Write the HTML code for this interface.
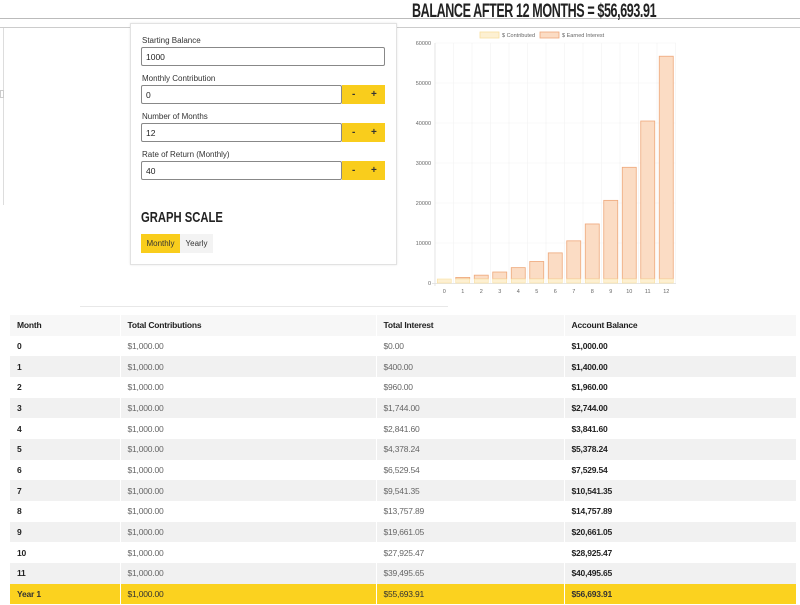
<!DOCTYPE html>
<html><head><meta charset="utf-8"><style>
*{box-sizing:border-box;margin:0;padding:0}
body{width:800px;height:605px;background:#fff;font-family:"Liberation Sans",sans-serif;position:relative;overflow:hidden;color:#222}
.abs{position:absolute}
.lbl{font-size:8px;color:#333}
.inp{position:absolute;left:141px;height:19px;border:1px solid #888;border-radius:2px;font-size:8.5px;padding:4px 4px;background:#fff}
.btn{position:absolute;left:342px;width:43px;height:19px;background:#f9cd1c;font-size:10px;font-weight:bold;color:#333}
.btn span{position:absolute;top:4px}
table{position:absolute;left:10px;top:315px;width:786px;border-collapse:collapse;font-size:8.5px;letter-spacing:-0.2px}
td{height:20.67px;padding:0 7px;border-left:1px solid #fff;color:#666;vertical-align:middle}
td:first-child{border-left:none;color:#222;font-weight:bold}
td:last-child{font-weight:bold;color:#222}
tr.h td{font-weight:bold;color:#222;background:#f7f7f7}
tr.g td{background:#f1f1f1}
tr.y td{background:#fbd21f;color:#333}
</style></head><body>
<div class="abs" style="left:0;top:18px;width:800px;height:1px;background:#bbb"></div>
<div class="abs" style="left:0;top:27px;width:800px;height:1px;background:#ccc"></div>
<div class="abs" style="left:3px;top:28px;width:1px;height:177px;background:#ddd"></div>
<div class="abs" style="left:0;top:90px;width:4px;height:8px;border:1px solid #ccc"></div>
<div class="abs" style="left:412px;top:1px;font-size:19px;font-weight:bold;letter-spacing:-0.6px;transform:scaleX(0.66);transform-origin:left;white-space:nowrap;color:#222">BALANCE AFTER 12 MONTHS = $56,693.91</div>

<div class="abs" style="left:130px;top:23px;width:267px;height:242px;border:1px solid #e2e2e2;box-shadow:0 0 2px rgba(0,0,0,.1);background:#fff"></div>
<div class="abs lbl" style="left:142px;top:36px">Starting Balance</div>
<div class="inp" style="top:47px;width:244px">1000</div>
<div class="abs lbl" style="left:142px;top:74px">Monthly Contribution</div>
<div class="inp" style="top:85px;width:201px">0</div>
<div class="btn" style="top:85px"><span style="left:10px">-</span><span style="left:29px">+</span></div>
<div class="abs lbl" style="left:142px;top:112px">Number of Months</div>
<div class="inp" style="top:123px;width:201px">12</div>
<div class="btn" style="top:123px"><span style="left:10px">-</span><span style="left:29px">+</span></div>
<div class="abs lbl" style="left:142px;top:150px">Rate of Return (Monthly)</div>
<div class="inp" style="top:161px;width:201px">40</div>
<div class="btn" style="top:161px"><span style="left:10px">-</span><span style="left:29px">+</span></div>
<div class="abs" style="left:141px;top:209px;font-size:15px;font-weight:bold;transform:scaleX(0.75);transform-origin:left;white-space:nowrap;color:#222">GRAPH SCALE</div>
<div class="abs" style="left:141px;top:234px;width:39px;height:19px;background:#f9cd1c;font-size:8px;color:#333;text-align:center;line-height:19px">Monthly</div>
<div class="abs" style="left:180px;top:234px;width:33px;height:19px;background:#f3f3f3;font-size:8px;color:#333;text-align:center;line-height:19px">Yearly</div>

<svg class="abs" style="left:0;top:0" width="800" height="305">
<g font-family="Liberation Sans" font-size="5.5" fill="#666">
<rect x="480" y="32" width="19" height="6" fill="#fdf0d2" stroke="#f8dfa0" stroke-width="0.8"/>
<text x="502" y="37">$ Contributed</text>
<rect x="540" y="32" width="19" height="6" fill="#fbdcc4" stroke="#eea77a" stroke-width="0.8"/>
<text x="562" y="37">$ Earned Interest</text>
<g text-anchor="end">
<text x="431" y="45">60000</text><text x="431" y="85">50000</text><text x="431" y="125">40000</text>
<text x="431" y="165">30000</text><text x="431" y="205">20000</text><text x="431" y="245">10000</text><text x="431" y="285">0</text>
</g>
<g stroke="#f2f2f2" stroke-width="0.6">
<line x1="435" y1="43" x2="676" y2="43"/><line x1="435" y1="83" x2="676" y2="83"/><line x1="435" y1="123" x2="676" y2="123"/>
<line x1="435" y1="163" x2="676" y2="163"/><line x1="435" y1="203" x2="676" y2="203"/><line x1="435" y1="243" x2="676" y2="243"/>
<line x1="453.5" y1="43" x2="453.5" y2="283"/><line x1="472" y1="43" x2="472" y2="283"/><line x1="490.5" y1="43" x2="490.5" y2="283"/>
<line x1="509" y1="43" x2="509" y2="283"/><line x1="527.5" y1="43" x2="527.5" y2="283"/><line x1="546" y1="43" x2="546" y2="283"/>
<line x1="564.5" y1="43" x2="564.5" y2="283"/><line x1="583" y1="43" x2="583" y2="283"/><line x1="601.5" y1="43" x2="601.5" y2="283"/>
<line x1="620" y1="43" x2="620" y2="283"/><line x1="638.5" y1="43" x2="638.5" y2="283"/><line x1="657" y1="43" x2="657" y2="283"/><line x1="675.5" y1="43" x2="675.5" y2="283"/>
</g>
<line x1="435" y1="43" x2="435" y2="286" stroke="#ddd" stroke-width="0.8"/>
<line x1="432" y1="283.5" x2="676" y2="283.5" stroke="#ddd" stroke-width="0.8"/>
<g id="bars"></g>
<g text-anchor="middle" id="xl"></g>
</g>
</svg>
<div class="abs" style="left:80px;top:306px;width:368px;height:1px;background:#e8e8e8"></div>

<table>
<tr class="h"><td style="width:110px">Month</td><td style="width:256px">Total Contributions</td><td style="width:188px">Total Interest</td><td>Account Balance</td></tr>
<tr><td>0</td><td>$1,000.00</td><td>$0.00</td><td>$1,000.00</td></tr>
<tr class="g"><td>1</td><td>$1,000.00</td><td>$400.00</td><td>$1,400.00</td></tr>
<tr><td>2</td><td>$1,000.00</td><td>$960.00</td><td>$1,960.00</td></tr>
<tr class="g"><td>3</td><td>$1,000.00</td><td>$1,744.00</td><td>$2,744.00</td></tr>
<tr><td>4</td><td>$1,000.00</td><td>$2,841.60</td><td>$3,841.60</td></tr>
<tr class="g"><td>5</td><td>$1,000.00</td><td>$4,378.24</td><td>$5,378.24</td></tr>
<tr><td>6</td><td>$1,000.00</td><td>$6,529.54</td><td>$7,529.54</td></tr>
<tr class="g"><td>7</td><td>$1,000.00</td><td>$9,541.35</td><td>$10,541.35</td></tr>
<tr><td>8</td><td>$1,000.00</td><td>$13,757.89</td><td>$14,757.89</td></tr>
<tr class="g"><td>9</td><td>$1,000.00</td><td>$19,661.05</td><td>$20,661.05</td></tr>
<tr><td>10</td><td>$1,000.00</td><td>$27,925.47</td><td>$28,925.47</td></tr>
<tr class="g"><td>11</td><td>$1,000.00</td><td>$39,495.65</td><td>$40,495.65</td></tr>
<tr class="y"><td>Year 1</td><td>$1,000.00</td><td>$55,693.91</td><td>$56,693.91</td></tr>
</table>
<script>
var v=[1000,1400,1960,2744,3841.6,5378.24,7529.54,10541.35,14757.89,20661.05,28925.47,40495.65,56693.91];
var ns="http://www.w3.org/2000/svg",b=document.getElementById("bars"),xl=document.getElementById("xl");
v.forEach(function(val,i){
 var cx=444.25+18.5*i,w=14,x=cx-w/2,h=val*0.004,top=283-h;
 var r=document.createElementNS(ns,"rect");
 r.setAttribute("x",x);r.setAttribute("y",top);r.setAttribute("width",w);r.setAttribute("height",h-4);
 r.setAttribute("fill","#fbdcc4");r.setAttribute("stroke","#eea77a");r.setAttribute("stroke-width","0.8");b.appendChild(r);
 var c=document.createElementNS(ns,"rect");
 c.setAttribute("x",x);c.setAttribute("y",279);c.setAttribute("width",w);c.setAttribute("height",4);
 c.setAttribute("fill","#fdf0d2");c.setAttribute("stroke","#f8dfa0");c.setAttribute("stroke-width","0.6");b.appendChild(c);
 var t=document.createElementNS(ns,"text");t.setAttribute("x",cx);t.setAttribute("y",293);t.textContent=i;xl.appendChild(t);
});
</script>
</body></html>
